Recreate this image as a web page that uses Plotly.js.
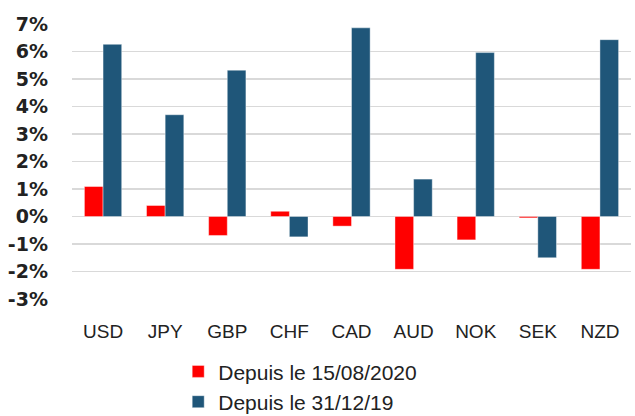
<!DOCTYPE html>
<html>
<head>
<meta charset="utf-8">
<script src="https://cdn.plot.ly/plotly-3.0.1.min.js"></script>
<style>html,body{margin:0;padding:0;background:#fff;}#chart{width:635px;height:416px;}</style>
</head>
<body>
<div id="chart"></div>
<script>
const categories = ["USD", "JPY", "GBP", "CHF", "CAD", "AUD", "NOK", "SEK", "NZD"];
const seriesNames = ["Depuis le 15/08/2020", "Depuis le 31/12/19"];
const sinceAug2020 = [1.09, 0.40, -0.69, 0.19, -0.35, -1.92, -0.85, -0.05, -1.92];
const sinceDec2019 = [6.26, 3.70, 5.32, -0.74, 6.86, 1.36, 5.96, -1.50, 6.43];
const yTickVals = [-3, -2, -1, 0, 1, 2, 3, 4, 5, 6, 7];
const yTickText = yTickVals.map(v => v + "%");

const traces = [
  {type: "bar", name: seriesNames[0], x: categories, y: sinceAug2020,
   marker: {color: "#FF0000", line: {color: "rgba(255,255,255,0.5)", width: 0.8}}},
  {type: "bar", name: seriesNames[1], x: categories, y: sinceDec2019,
   marker: {color: "#1F5679", line: {color: "rgba(255,255,255,0.5)", width: 0.8}}}
];

const layout = {
  width: 635, height: 416,
  margin: {l: 72, r: 4, t: 23.5, b: 116.5, autoexpand: false},
  paper_bgcolor: "#fff", plot_bgcolor: "#fff",
  barmode: "group", bargap: 0.4, bargroupgap: 0,
  showlegend: true,
  legend: {orientation: "v", x: 0.19, y: -0.19, xanchor: "left", yanchor: "top",
           font: {family: "Liberation Sans, Arial, sans-serif", size: 21, color: "#222"},
           tracegroupgap: 0, bgcolor: "rgba(0,0,0,0)"},
  xaxis: {tickfont: {family: "Liberation Sans, Arial, sans-serif", size: 19, color: "#222"},
          showgrid: false, zeroline: false, showline: false, ticks: "", tickangle: 0, automargin: false,
          ticklabelstandoff: 19},
  yaxis: {range: [-3, 7], tickmode: "array", tickvals: yTickVals, ticktext: yTickText,
          tickfont: {family: "DejaVu Sans, sans-serif", size: 19, color: "#222", weight: "bold"},
          showgrid: true, gridcolor: "#D9D9D9", gridwidth: 1.5,
          zeroline: true, zerolinecolor: "#D9D9D9", zerolinewidth: 1.5,
          showline: false, ticks: "", automargin: false, ticklabelstandoff: 23}
};

Plotly.newPlot("chart", traces, layout, {displayModeBar: false, staticPlot: true});
</script>
</body>
</html>
